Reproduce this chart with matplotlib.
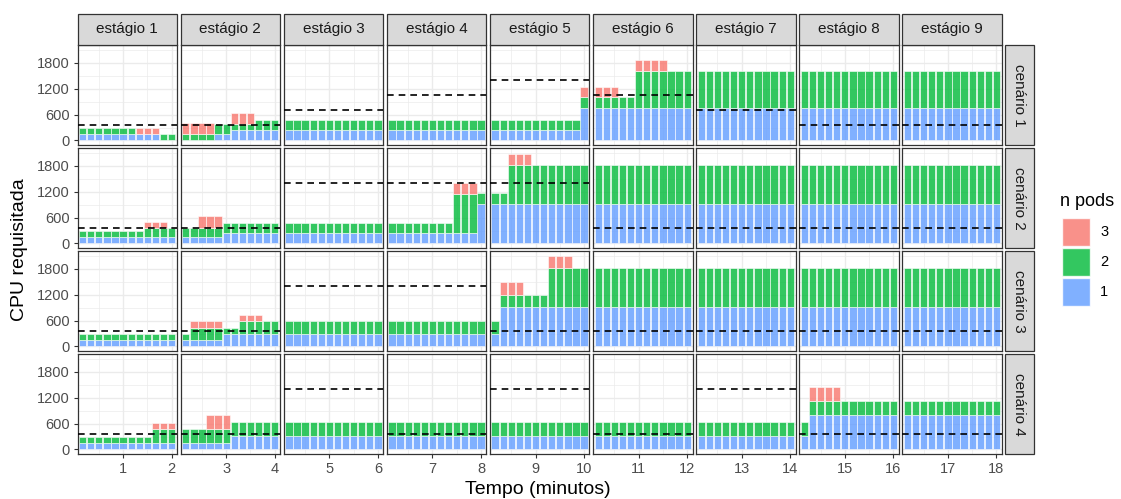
import matplotlib.pyplot as plt
from matplotlib.patches import Rectangle
import numpy as np

plt.rcParams['font.family'] = ['Liberation Sans', 'DejaVu Sans']

# cores do ggplot para n pods
cor_pod = {'1': '#619CFF', '2': '#00BA38', '3': '#F8766D'}
transp = 0.8

estagios = ['estágio %d' % i for i in range(1, 10)]
cenarios = ['cenário 1', 'cenário 2', 'cenário 3', 'cenário 4']

# cada estagio: lista de trechos (n barras, pod1, pod2, pod3) em CPU (m)
c1_pods = [
    [(7, 140, 140, 0), (3, 140, 0, 160), (2, 0, 150, 0)],
    [(4, 0, 150, 260), (2, 150, 240, 0), (3, 240, 150, 240), (3, 240, 240, 0)],
    [(12, 240, 240, 0)],
    [(12, 240, 240, 0)],
    [(11, 240, 240, 0), (1, 760, 240, 250)],
    [(3, 760, 240, 250), (2, 760, 240, 0), (4, 760, 855, 245), (3, 760, 855, 0)],
    [(12, 765, 855, 0)],
    [(12, 765, 855, 0)],
    [(12, 765, 855, 0)],
]
c2_pods = [
    [(8, 140, 140, 0), (3, 140, 225, 140), (1, 140, 225, 0)],
    [(2, 140, 225, 0), (3, 140, 225, 270), (7, 240, 240, 0)],
    [(12, 240, 240, 0)],
    [(8, 240, 240, 0), (3, 240, 900, 257), (1, 910, 270, 0)],
    [(2, 910, 270, 0), (3, 910, 910, 260), (7, 910, 910, 0)],
    [(12, 910, 910, 0)],
    [(12, 910, 910, 0)],
    [(12, 910, 910, 0)],
    [(12, 910, 910, 0)],
]
c3_pods = [
    [(12, 140, 140, 0)],
    [(1, 140, 145, 0), (4, 140, 290, 155), (2, 290, 140, 0), (3, 290, 290, 155), (2, 290, 290, 0)],
    [(12, 290, 290, 0)],
    [(12, 290, 290, 0)],
    [(1, 290, 290, 0), (3, 910, 290, 290), (3, 910, 290, 0), (3, 910, 910, 290), (2, 910, 910, 0)],
    [(12, 910, 910, 0)],
    [(12, 910, 910, 0)],
    [(12, 910, 910, 0)],
    [(12, 910, 910, 0)],
]
c4_pods = [
    [(9, 140, 140, 0), (3, 140, 330, 140)],
    [(3, 140, 330, 0), (3, 140, 330, 330), (6, 320, 320, 0)],
    [(12, 320, 320, 0)],
    [(12, 320, 320, 0)],
    [(12, 320, 320, 0)],
    [(12, 320, 320, 0)],
    [(12, 320, 320, 0)],
    [(1, 320, 320, 0), (4, 805, 328, 328), (7, 805, 328, 0)],
    [(12, 805, 328, 0)],
]
pods = [c1_pods, c2_pods, c3_pods, c4_pods]

# demanda (linha tracejada) por estagio
dem_c1 = [350, 350, 700, 1050, 1400, 1050, 700, 350, 350]
dem_c2 = [350, 350, 1400, 1400, 1400, 350, 350, 350, 350]
dem_c3 = [350, 350, 1400, 1400, 350, 350, 350, 350, 350]
dem_c4 = [350, 350, 1400, 350, 1400, 350, 1400, 350, 350]
demanda = [dem_c1, dem_c2, dem_c3, dem_c4]

W, H = 1121, 499
fig = plt.figure(figsize=(W / 100, H / 100), dpi=100)


def rect(x0, y0, w, h):
    return [x0 / W, 1 - (y0 + h) / H, w / W, h / H]


px0, pitch_x, pw = 77.5, 103.1, 99.5
py0, pitch_y, ph = 45, 103, 100
grid_c = '#EBEBEB'
borda = '#333333'

for i in range(4):
    for j in range(9):
        ax = fig.add_axes(rect(px0 + j * pitch_x, py0 + i * pitch_y, pw, ph))
        b1, b2, b3 = [], [], []
        for n, p1, p2, p3 in pods[i][j]:
            b1 += [p1] * n
            b2 += [p2] * n
            b3 += [p3] * n
        b1, b2, b3 = np.array(b1), np.array(b2), np.array(b3)
        t = 2 * j + np.arange(1, 13) / 6
        w = 0.9 / 6
        m = b1 > 0
        ax.bar(t[m], b1[m], width=w, color=cor_pod['1'], edgecolor='white', linewidth=0.5, alpha=transp, zorder=2)
        m = b2 > 0
        ax.bar(t[m], b2[m], bottom=b1[m], width=w, color=cor_pod['2'], edgecolor='white', linewidth=0.5, alpha=transp, zorder=2)
        m = b3 > 0
        ax.bar(t[m], b3[m], bottom=(b1 + b2)[m], width=w, color=cor_pod['3'], edgecolor='white', linewidth=0.5, alpha=transp, zorder=2)
        ax.axhline(demanda[i][j], color='black', linestyle=(0, (4, 3)), linewidth=1.2, zorder=3)

        ax.set_xlim(2 * j + 0.06, 2 * j + 2.11)
        ax.set_ylim(-105, 2215)
        ax.set_xticks([2 * j + 1, 2 * j + 2])
        ax.set_xticks([2 * j + 0.5, 2 * j + 1.5], minor=True)
        ax.set_yticks([0, 600, 1200, 1800])
        ax.set_yticks([300, 900, 1500, 2100], minor=True)
        ax.grid(True, which='major', color=grid_c, linewidth=1.0, zorder=0)
        ax.grid(True, which='minor', color=grid_c, linewidth=0.5, zorder=0)
        ax.set_axisbelow(True)
        for s in ax.spines.values():
            s.set_color(borda)
            s.set_linewidth(0.9)
        ax.tick_params(which='minor', length=0)
        ax.tick_params(which='major', colors=borda, length=3, width=0.8,
                       labelsize=10.5, labelcolor='#4D4D4D', pad=2.5)
        if j > 0:
            ax.tick_params(axis='y', left=False, labelleft=False)
        if i < 3:
            ax.tick_params(axis='x', bottom=False, labelbottom=False)

# faixas superiores (estagios)
for j in range(9):
    x0 = px0 + j * pitch_x
    fig.patches.append(Rectangle((x0 / W, 1 - 44.5 / H), pw / W, 31 / H, transform=fig.transFigure,
                                 facecolor='#D9D9D9', edgecolor=borda, linewidth=0.9))
    fig.text((x0 + pw / 2) / W, 1 - 29.5 / H, estagios[j], ha='center', va='center', fontsize=11, color='#1A1A1A')

# faixas laterais (cenarios)
sx = px0 + 8 * pitch_x + pw + 3
for i in range(4):
    y0 = py0 + i * pitch_y
    fig.patches.append(Rectangle((sx / W, 1 - (y0 + ph) / H), 29 / W, ph / H, transform=fig.transFigure,
                                 facecolor='#D9D9D9', edgecolor=borda, linewidth=0.9))
    fig.text((sx + 14.5) / W, 1 - (y0 + ph / 2) / H, cenarios[i], ha='center', va='center',
             rotation=-90, fontsize=11, color='#1A1A1A')

# titulos dos eixos
fig.text(538 / W, 1 - 489 / H, 'Tempo (minutos)', ha='center', va='center', fontsize=14)
fig.text(20 / W, 1 - 250 / H, 'CPU requisitada', ha='center', va='center', rotation=90, fontsize=14)

# legenda
fig.text(1060 / W, 1 - 202 / H, 'n pods', ha='left', va='center', fontsize=13)
for k, nome in enumerate(['3', '2', '1']):
    ky = 218 + k * 30
    fig.patches.append(Rectangle((1062 / W, 1 - (ky + 28) / H), 28 / W, 28 / H, transform=fig.transFigure,
                                 facecolor=cor_pod[nome], edgecolor='white', linewidth=1, alpha=transp))
    fig.text(1100 / W, 1 - (ky + 14) / H, nome, ha='left', va='center', fontsize=10.5, color='black')

fig.savefig('out.png', dpi=100)
